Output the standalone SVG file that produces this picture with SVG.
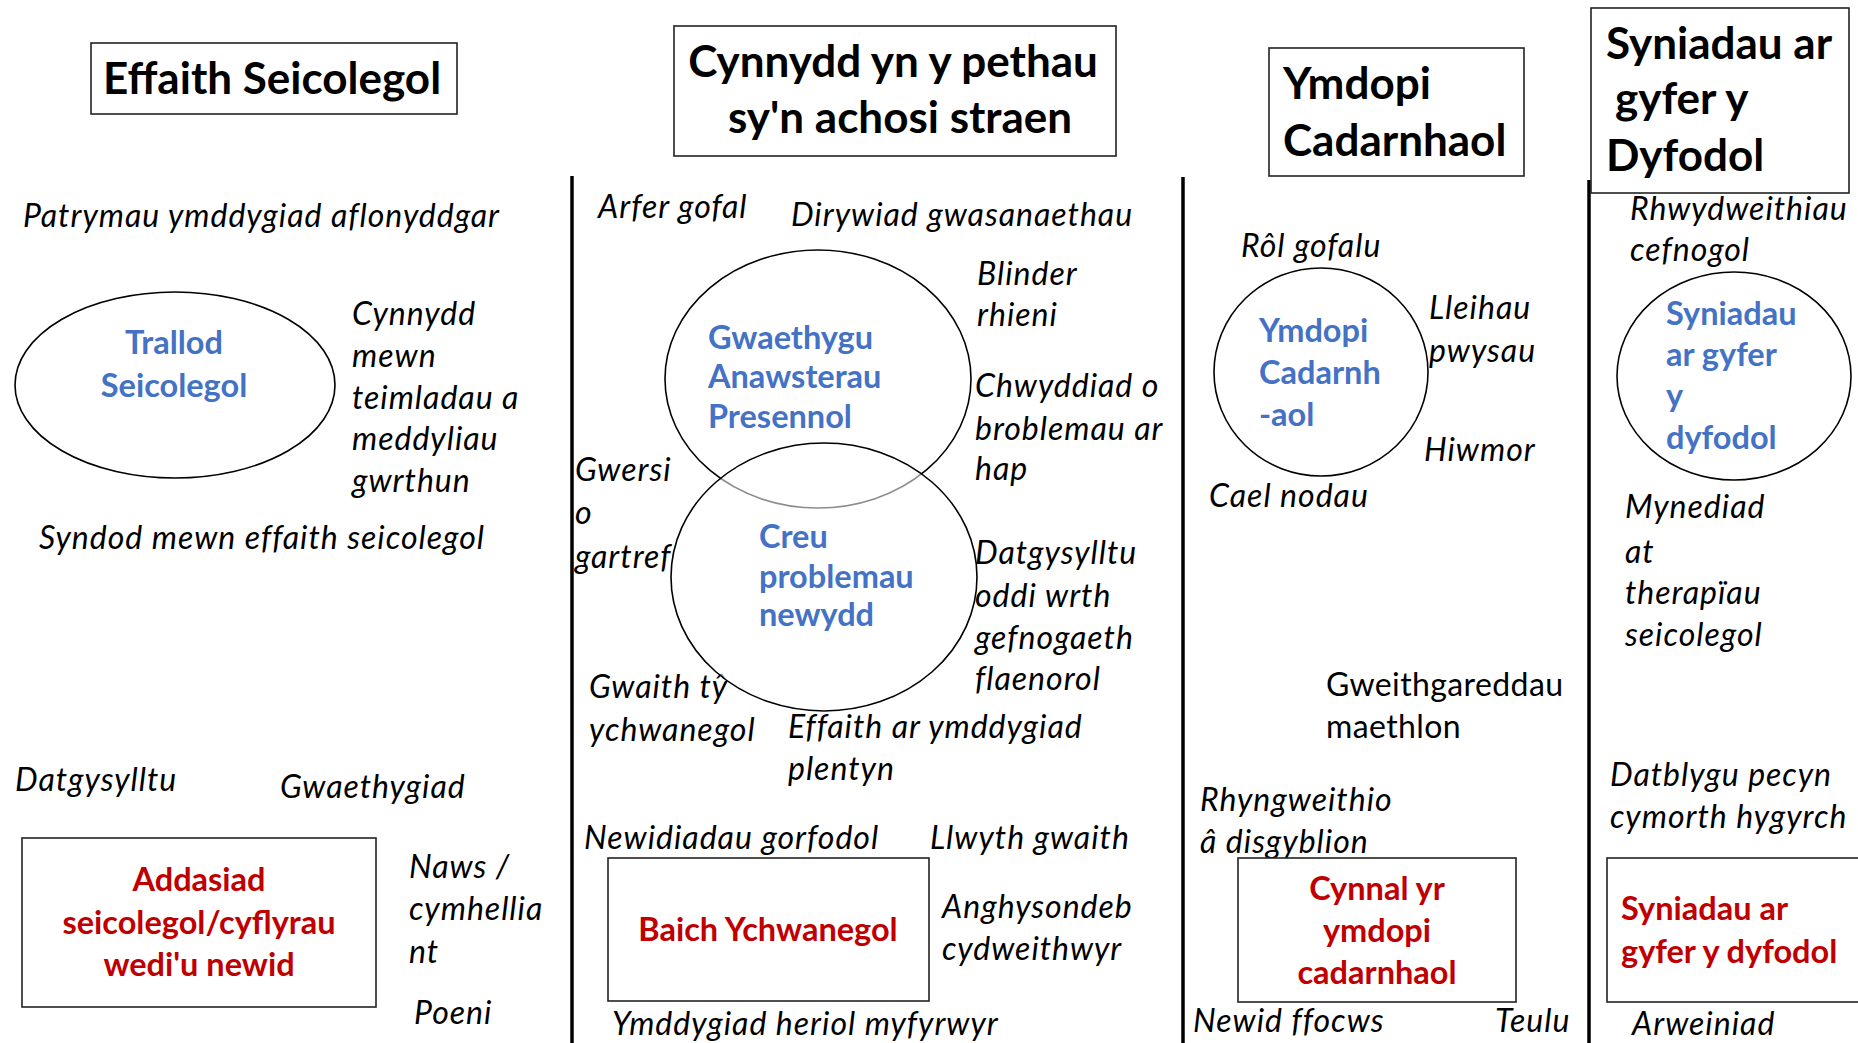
<svg xmlns="http://www.w3.org/2000/svg" width="1858" height="1043" viewBox="0 0 1858 1043">
<style>
  .bg { fill: #ffffff; }
  .lbl { font-family: Lato, "Open Sans", "Liberation Sans", sans-serif; font-style: italic; font-size: 32px; letter-spacing: 1px; fill: #000; }
  .plain { font-family: Lato, "Open Sans", "Liberation Sans", sans-serif; font-size: 32px; letter-spacing: 0.4px; fill: #000; }
  .title { font-family: Lato, "Open Sans", "Liberation Sans", sans-serif; font-weight: bold; font-size: 44px; fill: #000; }
  .blue { font-family: Lato, "Open Sans", "Liberation Sans", sans-serif; font-weight: bold; font-size: 32.5px; fill: #4472C4; }
  .red { font-family: Lato, "Open Sans", "Liberation Sans", sans-serif; font-weight: bold; font-size: 32.5px; fill: #C00000; }
  .box { fill: #ffffff; stroke: #222; stroke-width: 1.6; }
  .oval { fill: #ffffff; stroke: #000; stroke-width: 1.6; }
  .div { stroke: #000; stroke-width: 3.5; }
  .mid { text-anchor: middle; }
</style>
<rect class="bg" x="0" y="0" width="1858" height="1043"/>

<g id="dividers">
  <line class="div" x1="572" y1="176" x2="572" y2="1043"/>
  <line class="div" x1="1183" y1="177" x2="1183" y2="1043"/>
  <line class="div" x1="1589" y1="180" x2="1589" y2="1043"/>
</g>

<!-- Column 1 -->
<g id="title-effaith">
  <rect class="box" x="91" y="43" width="366" height="71"/>
  <text class="title mid" x="272" y="94">Effaith Seicolegol</text>
</g>
<g id="labels-col1">
  <text class="lbl" x="23" y="227">Patrymau ymddygiad aflonyddgar</text>
  <text class="lbl" x="352" y="325">Cynnydd</text>
  <text class="lbl" x="352" y="367">mewn</text>
  <text class="lbl" x="352" y="409">teimladau a</text>
  <text class="lbl" x="352" y="450">meddyliau</text>
  <text class="lbl" x="352" y="492">gwrthun</text>
  <text class="lbl" x="39" y="549">Syndod mewn effaith seicolegol</text>
  <text class="lbl" x="15" y="791">Datgysylltu</text>
  <text class="lbl" x="280" y="798">Gwaethygiad</text>
  <text class="lbl" x="409" y="878">Naws /</text>
  <text class="lbl" x="409" y="920">cymhellia</text>
  <text class="lbl" x="409" y="963">nt</text>
  <text class="lbl" x="414" y="1024">Poeni</text>
</g>
<g id="node-trallod">
  <ellipse class="oval" cx="175" cy="385" rx="160" ry="93"/>
  <text class="blue mid" x="174" y="354">Trallod</text>
  <text class="blue mid" x="174" y="397">Seicolegol</text>
</g>
<g id="node-addasiad">
  <rect class="box" x="22" y="838" width="354" height="169"/>
  <text class="red mid" x="199" y="891">Addasiad</text>
  <text class="red mid" x="199" y="934">seicolegol/cyflyrau</text>
  <text class="red mid" x="199" y="976">wedi'u newid</text>
</g>

<!-- Column 2 -->
<g id="title-cynnydd">
  <rect class="box" x="674" y="26" width="442" height="130"/>
  <text class="title mid" x="893" y="77">Cynnydd yn y pethau</text>
  <text class="title mid" x="900" y="133">sy'n achosi straen</text>
</g>
<g id="labels-col2">
  <text class="lbl" x="598" y="218">Arfer gofal</text>
  <text class="lbl" x="791" y="226">Dirywiad gwasanaethau</text>
  <text class="lbl" x="977" y="285">Blinder</text>
  <text class="lbl" x="977" y="326">rhieni</text>
  <text class="lbl" x="975" y="397">Chwyddiad o</text>
  <text class="lbl" x="975" y="440">broblemau ar</text>
  <text class="lbl" x="975" y="480">hap</text>
  <text class="lbl" x="575" y="481">Gwersi</text>
  <text class="lbl" x="575" y="524">o</text>
  <text class="lbl" x="575" y="568">gartref</text>
  <text class="lbl" x="975" y="564">Datgysylltu</text>
  <text class="lbl" x="975" y="607">oddi wrth</text>
  <text class="lbl" x="975" y="649">gefnogaeth</text>
  <text class="lbl" x="975" y="690">flaenorol</text>
  <text class="lbl" x="589" y="698">Gwaith tŷ</text>
  <text class="lbl" x="589" y="741">ychwanegol</text>
  <text class="lbl" x="788" y="738">Effaith ar ymddygiad</text>
  <text class="lbl" x="788" y="780">plentyn</text>
  <text class="lbl" x="584" y="849">Newidiadau gorfodol</text>
  <text class="lbl" x="930" y="849">Llwyth gwaith</text>
  <text class="lbl" x="942" y="918">Anghysondeb</text>
  <text class="lbl" x="942" y="960">cydweithwyr</text>
  <text class="lbl" x="612" y="1035">Ymddygiad heriol myfyrwyr</text>
</g>
<g id="node-gwaethygu">
  <ellipse class="oval" cx="818" cy="379" rx="153" ry="129"/>
  <text class="blue" x="708" y="349">Gwaethygu</text>
  <text class="blue" x="708" y="388">Anawsterau</text>
  <text class="blue" x="708" y="428">Presennol</text>
</g>
<g id="node-creu">
  <ellipse cx="824" cy="577" rx="153" ry="134" fill="#ffffff" fill-opacity="0.55" stroke="#000" stroke-width="1.6"/>
  <text class="blue" x="759" y="548">Creu</text>
  <text class="blue" x="759" y="588">problemau</text>
  <text class="blue" x="759" y="626">newydd</text>
</g>
<g id="node-baich">
  <rect class="box" x="608" y="858" width="321" height="143"/>
  <text class="red mid" x="768" y="941">Baich Ychwanegol</text>
</g>

<!-- Column 3 -->
<g id="title-ymdopi">
  <rect class="box" x="1269" y="48" width="255" height="128"/>
  <text class="title" x="1283" y="99">Ymdopi</text>
  <text class="title" x="1283" y="156">Cadarnhaol</text>
</g>
<g id="labels-col3">
  <text class="lbl" x="1241" y="257">Rôl gofalu</text>
  <text class="lbl" x="1429" y="319">Lleihau</text>
  <text class="lbl" x="1429" y="362">pwysau</text>
  <text class="lbl" x="1424" y="461">Hiwmor</text>
  <text class="lbl" x="1209" y="507">Cael nodau</text>
  <text class="plain" x="1326" y="696">Gweithgareddau</text>
  <text class="plain" x="1326" y="738">maethlon</text>
  <text class="lbl" x="1200" y="811">Rhyngweithio</text>
  <text class="lbl" x="1200" y="853">â disgyblion</text>
  <text class="lbl" x="1193" y="1032">Newid ffocws</text>
  <text class="lbl" x="1495" y="1032">Teulu</text>
</g>
<g id="node-ymdopi">
  <ellipse class="oval" cx="1321" cy="372" rx="107" ry="104"/>
  <text class="blue" x="1259" y="342">Ymdopi</text>
  <text class="blue" x="1259" y="384">Cadarnh</text>
  <text class="blue" x="1259" y="426">-aol</text>
</g>
<g id="node-cynnal">
  <rect class="box" x="1238" y="858" width="278" height="144"/>
  <text class="red mid" x="1377" y="900">Cynnal yr</text>
  <text class="red mid" x="1377" y="942">ymdopi</text>
  <text class="red mid" x="1377" y="984">cadarnhaol</text>
</g>

<!-- Column 4 -->
<g id="title-syniadau">
  <rect class="box" x="1591" y="8" width="258" height="185"/>
  <text class="title" x="1606" y="59">Syniadau ar</text>
  <text class="title" x="1615" y="114">gyfer y</text>
  <text class="title" x="1606" y="171">Dyfodol</text>
</g>
<g id="labels-col4">
  <text class="lbl" x="1630" y="220">Rhwydweithiau</text>
  <text class="lbl" x="1630" y="261">cefnogol</text>
  <text class="lbl" x="1625" y="518">Mynediad</text>
  <text class="lbl" x="1625" y="563">at</text>
  <text class="lbl" x="1625" y="604">therapïau</text>
  <text class="lbl" x="1625" y="646">seicolegol</text>
  <text class="lbl" x="1610" y="786">Datblygu pecyn</text>
  <text class="lbl" x="1610" y="828">cymorth hygyrch</text>
  <text class="lbl" x="1632" y="1035">Arweiniad</text>
</g>
<g id="node-syniadau">
  <ellipse class="oval" cx="1734" cy="376" rx="117" ry="104"/>
  <text class="blue" x="1666" y="325">Syniadau</text>
  <text class="blue" x="1666" y="366">ar gyfer</text>
  <text class="blue" x="1666" y="407">y</text>
  <text class="blue" x="1666" y="449">dyfodol</text>
</g>
<g id="node-syniadau-box">
  <rect class="box" x="1607" y="858" width="260" height="144"/>
  <text class="red" x="1621" y="920">Syniadau ar</text>
  <text class="red" x="1621" y="963">gyfer y dyfodol</text>
</g>
</svg>
